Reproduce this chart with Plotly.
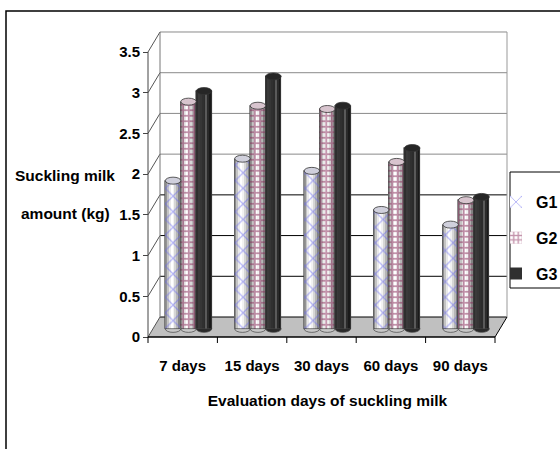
import plotly.graph_objects as go

# ---------------- data ----------------
categories = ["7 days", "15 days", "30 days", "60 days", "90 days"]
series_names = ["G1", "G2", "G3"]
g1 = [1.82, 2.09, 1.94, 1.46, 1.28]
g2 = [2.79, 2.74, 2.70, 2.05, 1.58]
g3 = [2.92, 3.10, 2.74, 2.22, 1.62]
y_ticks = [0, 0.5, 1, 1.5, 2, 2.5, 3, 3.5]
y_tick_labels = ["0", "0.5", "1", "1.5", "2", "2.5", "3", "3.5"]
x_title = "Evaluation days of suckling milk"
y_title_lines = ["Suckling milk", "amount (kg)"]

series_values = [g1, g2, g3]

# ---------------- geometry (pixels) ----------------
FIG_W, FIG_H = 560, 449
PX_CAT = 69.4      # px per category on front plane
PX_UNIT = 81.43    # px per value unit
FRONT_X = 148      # px of x = -0.5
FRONT_Y = 337      # px of value 0
PLOT_L, PLOT_R, PLOT_T, PLOT_B = 142, 513, 25, 355
DX = 12 / PX_CAT   # depth offset of back wall (x)
DY = 20 / PX_UNIT  # depth offset of back wall (y)

xr = [-0.5 - (FRONT_X - PLOT_L) / PX_CAT, -0.5 + (PLOT_R - FRONT_X) / PX_CAT]
yr = [-(PLOT_B - FRONT_Y) / PX_UNIT, (FRONT_Y - PLOT_T) / PX_UNIT]


def paper_x(p):
    return (p - PLOT_L) / (PLOT_R - PLOT_L)


def paper_y(p):
    return (PLOT_B - p) / (PLOT_B - PLOT_T)


FONT = "Liberation Sans, Arial, sans-serif"

# bar layout
W = 0.223
OFF = [-0.139, 0.084, 0.307]
BASE = 0.1
K = 8
light = ["#949494", "#c4c4c4", "#eaeaea", "#ffffff", "#f2f2f2", "#d6d6d6", "#b6b6b6", "#828282"]
shades = [
    light,
    light,
    ["#2e2e2e", "#3a3a3a", "#363636", "#303030", "#2c2c2c", "#5a5a5a", "#2a2a2a", "#1a1a1a"],
]
patterns = [
    dict(shape="x", fgcolor="#6b6bee", size=11, solidity=0.22, fillmode="overlay"),
    dict(shape="+", fgcolor="#8a2a5a", size=5.5, solidity=0.55, fillmode="overlay"),
    dict(shape="", fillmode="overlay"),
]
top_fill = ["#d0d0dc", "#d8c4ce", "#262626"]
bottom_fill = ["#c8c8c8", "#c8c8c8", "#2a2a2a"]

fig = go.Figure()

for s, vals in enumerate(series_values):
    for k in range(K):
        xs = [i + OFF[s] - W / 2 + (k + 0.5) * W / K for i in range(len(categories))]
        fig.add_trace(go.Bar(
            x=xs, y=vals, base=BASE, width=W / K,
            name=series_names[s], legendgroup=series_names[s],
            showlegend=(k == 3),
            marker=dict(color=shades[s][k], line=dict(width=0), pattern=patterns[s]),
            hoverinfo="skip",
        ))
    # outline
    fig.add_trace(go.Bar(
        x=[i + OFF[s] for i in range(len(categories))], y=vals, base=BASE, width=W,
        showlegend=False, legendgroup=series_names[s],
        marker=dict(color="rgba(0,0,0,0)", line=dict(width=0.7, color="#444")),
        hoverinfo="skip",
    ))

shapes = []
# floor
shapes.append(dict(type="path", xref="x", yref="y", layer="below",
                   path=f"M {-0.5},0 L 4.5,0 L {4.5+DX},{DY} L {-0.5+DX},{DY} Z",
                   fillcolor="#c0c0c0", line=dict(width=0)))
# back-wall gridlines
for v in y_ticks:
    col = "#8a8a8a" if v >= 2 else "#000000"
    shapes.append(dict(type="line", xref="x", yref="y", layer="below",
                       x0=-0.5 + DX, x1=4.5 + DX, y0=v + DY, y1=v + DY,
                       line=dict(color=col, width=1)))
    # depth connectors from front axis ticks
    shapes.append(dict(type="line", xref="x", yref="y", layer="below",
                       x0=-0.5, x1=-0.5 + DX, y0=v, y1=v + DY,
                       line=dict(color="#555", width=1)))
# back wall left & right edges
shapes.append(dict(type="line", xref="x", yref="y", layer="below",
                   x0=-0.5 + DX, x1=-0.5 + DX, y0=DY, y1=3.5 + DY,
                   line=dict(color="#777", width=1)))
shapes.append(dict(type="line", xref="x", yref="y", layer="below",
                   x0=4.5 + DX, x1=4.5 + DX, y0=DY, y1=3.5 + DY,
                   line=dict(color="#999", width=1)))
# bottom ellipses of cylinders
EH = 3.5 / PX_UNIT
for s, vals in enumerate(series_values):
    for i in range(len(categories)):
        c = i + OFF[s]
        shapes.append(dict(type="circle", xref="x", yref="y", layer="below",
                           x0=c - W / 2, x1=c + W / 2, y0=BASE - EH, y1=BASE + EH,
                           fillcolor=bottom_fill[s], line=dict(color="#444", width=0.7)))
# top ellipses
for s, vals in enumerate(series_values):
    for i, v in enumerate(vals):
        c = i + OFF[s]
        t = BASE + v
        shapes.append(dict(type="circle", xref="x", yref="y", layer="above",
                           x0=c - W / 2, x1=c + W / 2, y0=t - EH, y1=t + EH,
                           fillcolor=top_fill[s], line=dict(color="#333", width=0.8)))
# front axes
shapes.append(dict(type="line", xref="x", yref="y", layer="above",
                   x0=-0.5, x1=-0.5, y0=0, y1=3.5, line=dict(color="#444", width=1)))
shapes.append(dict(type="line", xref="x", yref="y", layer="above",
                   x0=-0.5, x1=4.5, y0=0, y1=0, line=dict(color="#000", width=1.5)))
shapes.append(dict(type="line", xref="x", yref="y", layer="above",
                   x0=4.5, x1=4.5 + DX, y0=0, y1=DY, line=dict(color="#000", width=1)))
for b in range(len(categories) + 1):
    shapes.append(dict(type="line", xref="x", yref="y", layer="above",
                       x0=b - 0.5, x1=b - 0.5, y0=0, y1=-6 / PX_UNIT,
                       line=dict(color="#000", width=1)))
# legend box
shapes.append(dict(type="rect", xref="paper", yref="paper",
                   x0=paper_x(510), x1=paper_x(620), y0=paper_y(288), y1=paper_y(172),
                   line=dict(color="#000", width=1), fillcolor="rgba(0,0,0,0)"))
# outer chart border
shapes.append(dict(type="rect", xref="paper", yref="paper",
                   x0=paper_x(6), x1=paper_x(620), y0=paper_y(520), y1=paper_y(11),
                   line=dict(color="#000", width=1.5), fillcolor="rgba(0,0,0,0)"))

annotations = []
for txt, ypix in zip(y_title_lines, [176, 213]):
    annotations.append(dict(text=txt, xref="paper", yref="paper",
                            x=paper_x(65), y=paper_y(ypix), xanchor="center", yanchor="middle",
                            showarrow=False,
                            font=dict(family=FONT, size=15.5, color="#000", weight="bold")))

fig.update_layout(
    width=FIG_W, height=FIG_H,
    margin=dict(l=PLOT_L, r=FIG_W - PLOT_R, t=PLOT_T, b=FIG_H - PLOT_B, autoexpand=False),
    paper_bgcolor="white", plot_bgcolor="white",
    barmode="overlay", bargap=0,
    shapes=shapes, annotations=annotations,
    xaxis=dict(range=xr, tickvals=list(range(len(categories))), ticktext=categories,
               showgrid=False, zeroline=False, showline=False, ticks="",
               tickfont=dict(family=FONT, size=15, color="#000", weight="bold"),
               title=dict(text=x_title, standoff=22,
                          font=dict(family=FONT, size=15.5, color="#000", weight="bold"))),
    yaxis=dict(range=yr, tickvals=y_ticks, ticktext=y_tick_labels,
               anchor="free", position=paper_x(FRONT_X),
               showgrid=False, zeroline=False, showline=False,
               ticks="outside", ticklen=5, tickcolor="#444",
               tickfont=dict(family=FONT, size=15, color="#000", weight="bold")),
    legend=dict(x=paper_x(496), y=paper_y(185), xanchor="left", yanchor="top",
                bgcolor="rgba(0,0,0,0)", borderwidth=0, traceorder="grouped",
                tracegroupgap=12,
                font=dict(family=FONT, size=16, color="#000", weight="bold")),
    showlegend=True,
)

fig.write_html("out.html", config={"displayModeBar": False},
               post_script="document.body.style.margin='0';document.body.style.overflow='hidden';")
